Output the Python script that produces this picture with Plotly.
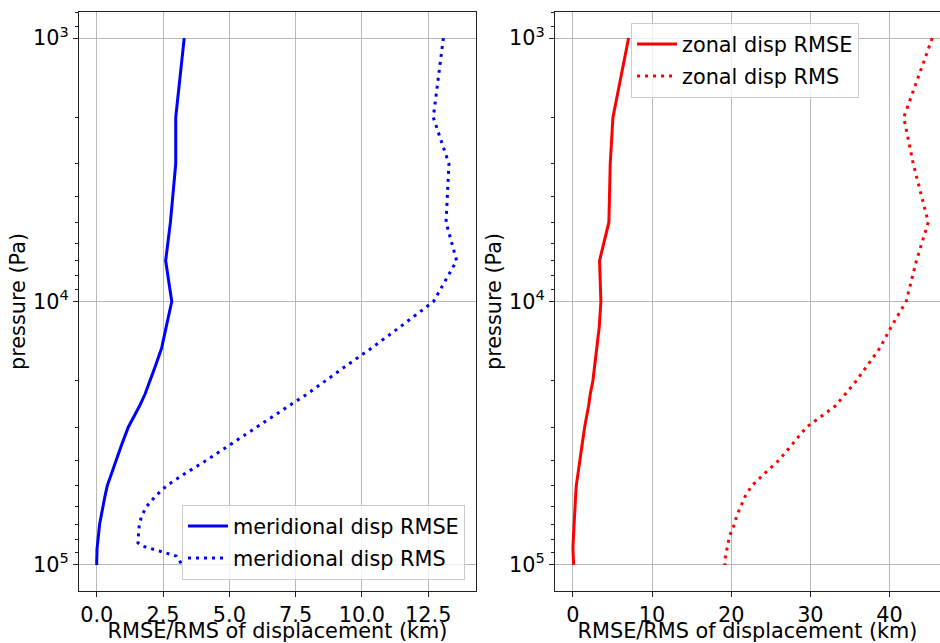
import plotly.graph_objects as go
from plotly.subplots import make_subplots

pressure = [1000, 2000, 3000, 5000, 7000, 10000, 12500, 15000, 17500, 20000, 22500,
            25000, 30000, 35000, 40000, 45000, 50000, 55000, 60000, 65000, 70000,
            75000, 77500, 80000, 82500, 85000, 87500, 90000, 92500, 95000, 97500, 100000]

merid_rmse = [3.30, 2.98, 2.98, 2.78, 2.60, 2.83, 2.62, 2.45, 2.22, 2.01, 1.82,
              1.61, 1.19, 0.94, 0.73, 0.56, 0.40, 0.31, 0.23, 0.16, 0.11,
              0.08, 0.06, 0.05, 0.04, 0.02, 0.01, 0.01, 0.0, 0.0, 0.0, 0.0]

merid_rms = [13.07, 12.69, 13.28, 13.17, 13.57, 12.70, 11.43, 10.37, 9.42, 8.61, 7.92,
             7.22, 6.03, 5.02, 4.15, 3.33, 2.64, 2.20, 1.88, 1.70, 1.61,
             1.58, 1.57, 1.56, 1.56, 1.76, 2.20, 2.65, 3.00, 3.10, 3.15, 3.20]

zonal_rmse = [7.03, 5.05, 4.71, 4.54, 3.36, 3.53, 3.32, 3.03, 2.82, 2.52, 2.18,
              1.97, 1.47, 1.14, 0.84, 0.59, 0.42, 0.33, 0.25, 0.17, 0.10,
              0.05, 0.03, 0.02, 0.01, 0.0, 0.0, 0.0, 0.0, 0.0, 0.05, 0.08]

zonal_rms = [45.4, 41.8, 43.0, 44.9, 43.4, 42.1, 40.2, 38.8, 37.2, 35.8, 34.4,
             33.1, 29.5, 27.65, 26.05, 24.2, 22.6, 21.75, 21.25, 20.7, 20.4,
             19.95, 19.8, 19.7, 19.6, 19.5, 19.4, 19.35, 19.3, 19.2, 19.2, 19.2]

y_major = [1000, 10000, 100000]
y_major_text = ["10<sup>3</sup>", "10<sup>4</sup>", "10<sup>5</sup>"]
y_minor = [m * 10 ** e for e in (2, 3, 4) for m in range(2, 10)]

x1_ticks = [0.0, 2.5, 5.0, 7.5, 10.0, 12.5]
x2_ticks = [0, 10, 20, 30, 40]

FONT = "DejaVu Sans"
FS = 20.8
W, H = 940, 643

fig = make_subplots(rows=1, cols=2)

dotdash = "3px,5px"
LW = 3
fig.add_trace(go.Scatter(x=merid_rmse, y=pressure, mode="lines", name="meridional disp RMSE",
                         line=dict(color="#0000ff", width=LW), legend="legend",
                         legendgroup="a"), row=1, col=1)
fig.add_trace(go.Scatter(x=merid_rms, y=pressure, mode="lines", name="meridional disp RMS",
                         line=dict(color="#0000ff", width=LW, dash=dotdash), legend="legend",
                         legendgroup="b"), row=1, col=1)
fig.add_trace(go.Scatter(x=zonal_rmse, y=pressure, mode="lines", name="zonal disp RMSE",
                         line=dict(color="#ff0000", width=LW), legend="legend2",
                         legendgroup="c"), row=1, col=2)
fig.add_trace(go.Scatter(x=zonal_rms, y=pressure, mode="lines", name="zonal disp RMS",
                         line=dict(color="#ff0000", width=LW, dash=dotdash), legend="legend2",
                         legendgroup="d"), row=1, col=2)

ydom = [52 / H, 631 / H]
title_font = dict(family=FONT, size=FS, color="black")
common_axis = dict(showline=True, linecolor="#222222", linewidth=1, ticks="outside",
                   ticklen=5, tickcolor="#222222", tickwidth=1, automargin=False,
                   gridcolor="#b8b8b8", gridwidth=1, zeroline=False,
                   tickfont=dict(family=FONT, size=FS, color="black"))

fig.update_xaxes(**common_axis)
fig.update_yaxes(**common_axis)

legend_common = dict(bgcolor="rgba(255,255,255,0.8)", bordercolor="#cccccc", borderwidth=1,
                     font=dict(family=FONT, size=FS, color="black"), tracegroupgap=2,
                     itemwidth=40)

fig.update_layout(
    xaxis=dict(domain=[79 / W, 476 / W], range=[-0.667, 14.30], tickvals=x1_ticks,
               ticktext=[f"{v:.1f}" for v in x1_ticks], mirror=True,
               title=dict(text="RMSE/RMS of displacement (km)", standoff=6, font=title_font)),
    xaxis2=dict(domain=[555 / W, 1.0], range=[-2.27, 46.38], tickvals=x2_ticks,
                mirror=True,
                title=dict(text="RMSE/RMS of displacement (km)", standoff=6, font=title_font)),
    yaxis=dict(domain=ydom, type="log", range=[5.099, 2.901], tickvals=y_major,
               ticktext=y_major_text, mirror=True,
               minor=dict(tickvals=y_minor, ticks="outside", ticklen=3, showgrid=False,
                          tickcolor="#222222"),
               title=dict(text="pressure (Pa)", standoff=1, font=title_font)),
    yaxis2=dict(domain=ydom, type="log", range=[5.099, 2.901], tickvals=y_major,
                ticktext=y_major_text, mirror=False,
                minor=dict(tickvals=y_minor, ticks="outside", ticklen=3, showgrid=False,
                           tickcolor="#222222"),
                title=dict(text="pressure (Pa)", standoff=1, font=title_font)),
    legend=dict(x=465 / W, xanchor="right", y=(H - 580) / H, yanchor="bottom", **legend_common),
    legend2=dict(x=631 / W, xanchor="left", y=(H - 23) / H, yanchor="top", **legend_common),
    width=W, height=H,
    margin=dict(l=0, r=0, t=0, b=0),
    paper_bgcolor="white", plot_bgcolor="white",
    font=dict(family=FONT, size=FS, color="black"),
)

fig.write_html("out.html", config={"displayModeBar": False},
               post_script="document.body.style.margin='0px';document.body.style.overflow='hidden';")
